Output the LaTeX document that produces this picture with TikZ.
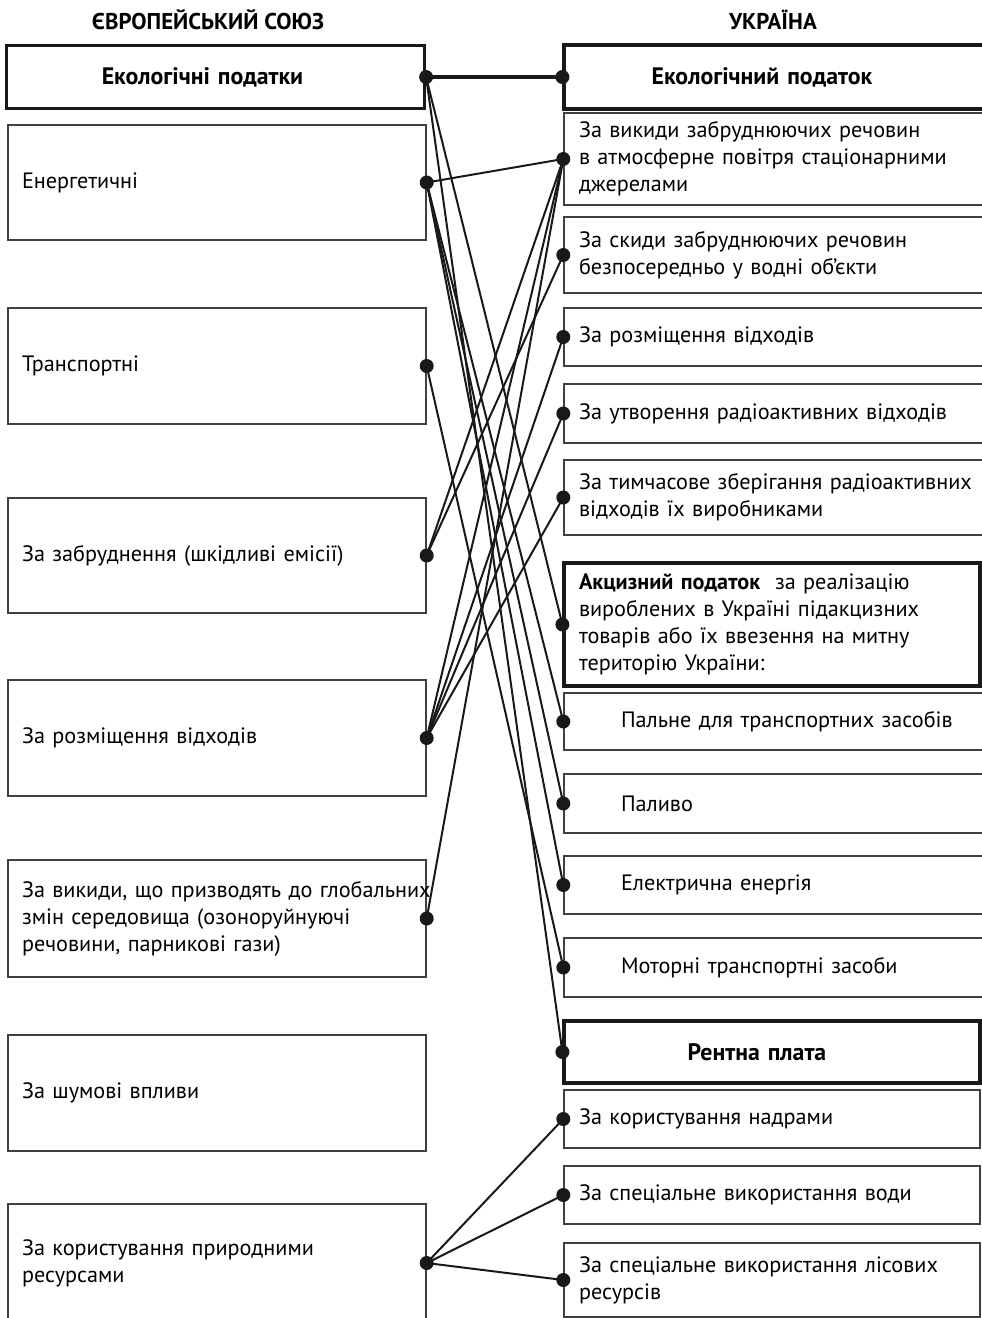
\documentclass[tikz,border=0pt]{standalone}
\usepackage{fontspec}
\setmainfont{PT Sans}
\begin{document}
\begin{tikzpicture}[x=0.5pt,y=-0.5pt,font=\fontsize{11.1}{13.5}\selectfont,
  ebox/.style={draw=black!75,line width=0.7pt,minimum height=58pt,text width=195pt,inner xsep=7pt,align=left},
  emain/.style={ebox,draw=black!90,line width=1.6pt,align=center,font=\fontsize{11.9}{13.5}\selectfont\bfseries},
  ubox/.style={draw=black!75,line width=0.7pt,text width=203pt,inner xsep=7.5pt,align=left},
  uclosed/.style={ubox,text width=193pt},
  umain/.style={uclosed,draw=black!90,line width=1.6pt},
  head/.style={font=\fontsize{11.4}{13.5}\selectfont\bfseries},
  link/.style={draw=black!90,line width=1pt}]

\useasboundingbox (0,0) rectangle (981,1318);

\begin{scope}
\node[head] (eu) at (208,20) {ЄВРОПЕЙСЬКИЙ СОЮЗ};
\node[emain,minimum height=31.5pt] (e0) at (215.5,77) {\hspace*{-13pt}Екологічні податки};
\node[ebox,minimum height=57.5pt] (e1) at (217,182.5) {Енергетичні};
\node[ebox] (e2) at (217,366) {Транспортні};
\node[ebox,minimum height=57.5pt] (e3) at (217,555.5) {За забруднення (шкідливі емісії)};
\node[ebox] (e4) at (217,738) {За розміщення відходів};
\node[ebox,minimum height=58.5pt] (e5) at (217,918.5) {\mbox{За викиди, що призводять до глобальних}\\ змін середовища (озоноруйнуючі\\ речовини, парникові гази)};
\node[ebox] (e6) at (217,1093) {За шумові впливи};
\node[ebox,minimum height=59pt] (e7) at (217,1263) {За користування природними\\ ресурсами};
\end{scope}

\begin{scope}
\node[head] (ua) at (773,20) {УКРАЇНА};
\node[ubox,draw=black!90,line width=1.6pt,align=center,font=\fontsize{11.9}{13.5}\selectfont\bfseries,minimum height=32pt] (u0) at (782,77) {\hspace*{-20pt}Екологічний податок};
\node[ubox,minimum height=46pt] (u1) at (782,159) {За викиди забруднюючих речовин\\ в атмосферне повітря стаціонарними\\ джерелами};
\node[ubox,minimum height=38pt] (u2) at (782,255) {За скиди забруднюючих речовин\\ безпосередньо у водні об’єкти};
\node[ubox,minimum height=29pt] (u3) at (782,337) {За розміщення відходів};
\node[ubox,minimum height=29.5pt] (u4) at (782,413.5) {За утворення радіоактивних відходів};
\node[ubox,minimum height=37.5pt] (u5) at (782,497.5) {За тимчасове зберігання радіоактивних\\ відходів їх виробниками};
\node[umain,minimum height=61.5pt] (u6) at (772,624.5) {\textbf{Акцизний податок}\ \ за реалізацію\\ вироблених в Україні підакцизних\\ товарів або їх ввезення на митну\\ територію України:};
\node[ubox,minimum height=28.5pt] (u7) at (782,721.5) {\hspace*{21pt}Пальне для транспортних засобів};
\node[ubox,minimum height=29.5pt] (u8) at (782,803.5) {\hspace*{21pt}Паливо};
\node[ubox,minimum height=29pt] (u9) at (782,885) {\hspace*{21pt}Електрична енергія};
\node[ubox,minimum height=29.5pt] (u10) at (782,967.5) {\hspace*{21pt}Моторні транспортні засоби};
\node[umain,align=center,font=\fontsize{11.9}{13.5}\selectfont\bfseries,minimum height=31pt] (u11) at (772,1052) {\hspace*{-15pt}Рентна плата};
\node[uclosed,minimum height=29pt] (u12) at (772,1119) {За користування надрами};
\node[uclosed,minimum height=29pt] (u13) at (772,1195) {За спеціальне використання води};
\node[uclosed,minimum height=37pt] (u14) at (772,1280) {За спеціальне використання лісових\\ ресурсів};
\end{scope}

\draw[link,line width=1.6pt] (e0.east) -- (u0.west);
\draw[link] (e0.east) -- (u6.west);
\draw[link] (e0.east) -- (u11.west);
\draw[link] (e1.east) -- (u1.west);
\draw[link] (e1.east) -- (u7.west);
\draw[link] (e1.east) -- (u8.west);
\draw[link] (e1.east) -- (u9.west);
\draw[link] (e2.east) -- (u10.west);
\draw[link] (e3.east) -- (u1.west);
\draw[link] (e3.east) -- (u2.west);
\draw[link] (e4.east) -- (u1.west);
\draw[link] (e4.east) -- (u3.west);
\draw[link] (e4.east) -- (u4.west);
\draw[link] (e4.east) -- (u5.west);
\draw[link] (e5.east) -- (u1.west);
\draw[link] (e7.east) -- (u12.west);
\draw[link] (e7.east) -- (u13.west);
\draw[link] (e7.east) -- (u14.west);

\fill[black!90] (e0.east) circle (7) (e1.east) circle (7) (e2.east) circle (7)
  (e3.east) circle (7) (e4.east) circle (7) (e5.east) circle (7) (e7.east) circle (7);
\fill[black!90] (u0.west) circle (7) (u1.west) circle (7) (u2.west) circle (7)
  (u3.west) circle (7) (u4.west) circle (7) (u5.west) circle (7) (u6.west) circle (7)
  (u7.west) circle (7) (u8.west) circle (7) (u9.west) circle (7) (u10.west) circle (7)
  (u11.west) circle (7) (u12.west) circle (7) (u13.west) circle (7) (u14.west) circle (7);

\end{tikzpicture}
\end{document}
